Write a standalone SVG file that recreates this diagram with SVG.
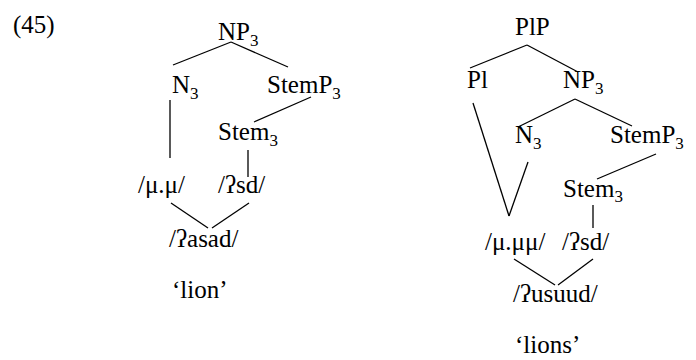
<svg xmlns="http://www.w3.org/2000/svg" width="696" height="360" viewBox="0 0 696 360">
<style>
text{font-family:"Liberation Serif","DejaVu Serif",serif;font-size:25px;fill:#000}
.sub{font-size:17px}
line{stroke:#000;stroke-width:1.3}
</style>
<rect width="696" height="360" fill="#fff"/>
<text id="label45" x="13" y="33">(45)</text>
<g id="connectors">
<line x1="231" y1="42" x2="173" y2="65"/>
<line x1="231" y1="42" x2="288" y2="67"/>
<line x1="170" y1="100" x2="170" y2="158"/>
<line x1="311" y1="97" x2="254" y2="122"/>
<line x1="248" y1="150" x2="248" y2="177"/>
<line x1="171" y1="203" x2="208" y2="228"/>
<line x1="249" y1="203" x2="212" y2="228"/>
<line x1="527" y1="45" x2="470" y2="68"/>
<line x1="527" y1="45" x2="578" y2="72"/>
<line x1="575" y1="99" x2="518" y2="127"/>
<line x1="575" y1="99" x2="632" y2="126"/>
<line x1="656" y1="154" x2="597" y2="179"/>
<line x1="473" y1="103" x2="509" y2="216"/>
<line x1="528" y1="162" x2="509" y2="216"/>
<line x1="593" y1="205" x2="593" y2="228"/>
<line x1="514" y1="259" x2="555" y2="285"/>
<line x1="593" y1="259" x2="558" y2="285"/>
</g>
<g id="L_NP3"><text x="218" y="40">NP<tspan class="sub" dy="6">3</tspan></text></g>
<g id="L_N3"><text x="172" y="93">N<tspan class="sub" dy="6">3</tspan></text></g>
<g id="L_StemP3"><text x="267" y="93">StemP<tspan class="sub" dy="6">3</tspan></text></g>
<g id="L_Stem3"><text x="218" y="140">Stem<tspan class="sub" dy="6">3</tspan></text></g>
<g id="L_mu"><text x="138" y="193">/μ.μ/</text></g>
<g id="L_psd"><text x="218" y="193">/ʔsd/</text></g>
<g id="L_asad"><text x="169" y="247">/ʔasad/</text></g>
<g id="L_gloss"><text x="172" y="298">‘lion’</text></g>
<g id="R_PlP"><text x="515" y="35">PlP</text></g>
<g id="R_Pl"><text x="467" y="88">Pl</text></g>
<g id="R_NP3"><text x="563" y="88">NP<tspan class="sub" dy="6">3</tspan></text></g>
<g id="R_N3"><text x="515" y="143">N<tspan class="sub" dy="6">3</tspan></text></g>
<g id="R_StemP3"><text x="610" y="143">StemP<tspan class="sub" dy="6">3</tspan></text></g>
<g id="R_Stem3"><text x="563" y="197">Stem<tspan class="sub" dy="5">3</tspan></text></g>
<g id="R_mu"><text x="485" y="250">/μ.μμ/</text></g>
<g id="R_psd"><text x="562" y="250">/ʔsd/</text></g>
<g id="R_usuud"><text x="513" y="302">/ʔusuud/</text></g>
<g id="R_gloss"><text x="515" y="353">‘lions’</text></g>
</svg>
